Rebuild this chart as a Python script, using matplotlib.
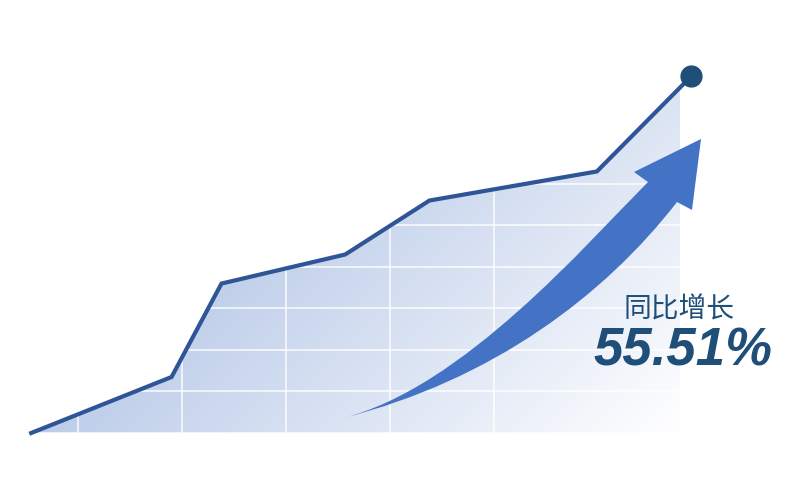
import numpy as np
import matplotlib.pyplot as plt
from matplotlib.path import Path
from matplotlib.patches import PathPatch, Polygon
from matplotlib import transforms
from matplotlib.colors import LinearSegmentedColormap

# values (grid units)
x_vals = [0.55, 1.9, 2.38, 3.57, 4.38, 5.99, 6.9]
y_vals = [0.0, 1.35, 3.6, 4.3, 5.6, 6.3, 8.6]
fill_end = 6.79
grid_x = [1, 2, 3, 4, 5]
grid_y = [0, 1, 2, 3, 4, 5, 6]
label = "同比增长"
growth = "55.51%"

W, H = 809, 482
fig = plt.figure(figsize=(W / 100, H / 100), dpi=100)
ax = fig.add_axes([0, 0, 1, 1])
ax.set_xlim(0.25, 8.03)
ax.set_ylim(-1.18, 10.43)
ax.axis("off")

# area polygon under the line, cut at fill_end
xs = np.array(x_vals)
ys = np.array(y_vals)
y_end = np.interp(fill_end, xs, ys)
mask = xs < fill_end
poly_x = [xs[0] - 0.07] + list(xs[mask]) + [fill_end, fill_end]
poly_y = [0] + list(ys[mask]) + [y_end, 0]
area = Polygon(np.column_stack([poly_x, poly_y]), closed=True,
               facecolor="none", edgecolor="none")
ax.add_patch(area)

# diagonal gradient, dark top-left to white bottom-right (pixel space)
px = np.linspace(0, W, 400)
py = np.linspace(0, H, 240)
PX, PY = np.meshgrid(px, py)
t = np.clip(((PX - 150) + (PY - 250)) / 715, 0, 1)
cmap = LinearSegmentedColormap.from_list("g", ["#b6c8e7", "#dae3f3", "#ffffff"])
img = ax.imshow(t, cmap=cmap, vmin=0, vmax=1, aspect="auto",
                extent=[0.25, 8.03, -1.18, 10.43], origin="upper",
                interpolation="bilinear", zorder=1)
img.set_clip_path(area)

# white grid inside the area only
for gx in grid_x:
    ln = ax.axvline(gx, color="white", lw=1.2, alpha=0.85, zorder=2)
    ln.set_clip_path(area)
for gy in grid_y:
    ln = ax.axhline(gy, color="white", lw=1.2, alpha=0.85, zorder=2)
    ln.set_clip_path(area)

# main line and end dot
ax.plot(x_vals, y_vals, color="#2f5597", lw=3, solid_joinstyle="miter", zorder=4)
ax.plot(x_vals[-1], y_vals[-1], "o", color="#1f4e79", ms=15, zorder=5)

# curved arrow, drawn in layout pixels (origin top-left)
pix = transforms.Affine2D().scale(1 / W, -1 / H).translate(0, 1) + fig.transFigure
verts = [
    (343, 418), (463, 388), (588, 242), (648, 182),
    (634, 172), (701, 139), (692, 210), (677, 202),
    (605, 295), (493, 380), (343, 418),
]
codes = [Path.MOVETO, Path.CURVE4, Path.CURVE4, Path.CURVE4,
         Path.LINETO, Path.LINETO, Path.LINETO, Path.LINETO,
         Path.CURVE4, Path.CURVE4, Path.CURVE4]
arrow = PathPatch(Path(verts, codes), facecolor="#4472c4", edgecolor="none",
                  transform=pix, zorder=6)
ax.add_patch(arrow)

fig.text(679 / W, 1 - 309 / H, label, ha="center", va="center",
         fontsize=20, color="#1f4e79", family=["Noto Sans CJK SC", "DejaVu Sans"],
         zorder=7)
fig.text(683 / W, 1 - 351 / H, growth, ha="center", va="center",
         fontsize=38, color="#1f4e79", family="Liberation Sans",
         weight="bold", style="italic", zorder=7)

fig.savefig("out.png", dpi=100, facecolor="white")
